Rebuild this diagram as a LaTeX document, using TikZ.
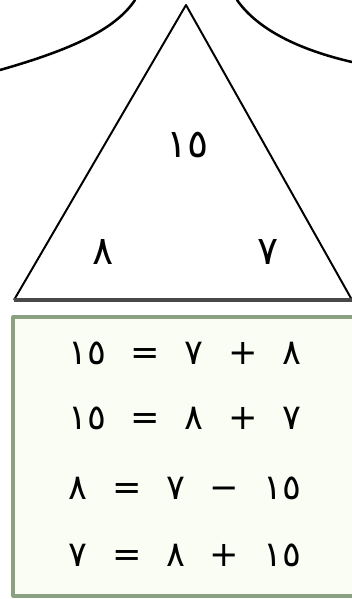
\documentclass[tikz,border=0pt]{standalone}
\usepackage{fontspec}
\newfontfamily\arabicfont[Script=Arabic]{DejaVu Sans}
\TeXXeTstate=1
\definecolor{boxgreen}{HTML}{8AA081}
\definecolor{boxfill}{HTML}{F9FDF4}
\definecolor{basegrey}{HTML}{484848}
\tikzset{num/.style={font=\arabicfont\fontsize{28}{32}\selectfont,inner sep=0pt},
  eqline/.style={font=\arabicfont\fontsize{25}{30}\selectfont,inner sep=0pt},
  rim/.style={line width=1.8pt,line cap=round}}
\newcommand{\eqgap}{\hspace{0.7em}}

\begin{document}
\begin{tikzpicture}[x=0.025cm,y=-0.025cm,line join=round]
 \useasboundingbox (0,0) rectangle (352,599);
 % curves at the top
 \draw[rim] (0,70) .. controls (70,50) and (115,30) .. (135,0);
 \draw[rim] (237,0) .. controls (258,30) and (300,50) .. (352,62);
 % box with the equations
 \draw[draw=boxgreen,fill=boxfill,line width=2.2pt] (353,317) -- (13,317) -- (13,596) -- (353,596);
 % triangle
 \coordinate (top) at (186,5);
 \coordinate (bl) at (14,300);
 \coordinate (br) at (352,300);
 \draw[line width=1.4pt] (bl) -- (top) -- (br);
 \draw[basegrey,line width=2.2pt] (bl) -- (br);
 \node[num] (sum) at (188,145) {\beginR ١٥\endR};
 \node[num] (left) at (103,252) {\beginR ٨\endR};
 \node[num] (right) at (268,252) {\beginR ٧\endR};
 % equations
 \foreach \y/\eq [count=\i] in {353/{٨\eqgap+\eqgap٧\eqgap=\eqgap١٥},
   418/{٧\eqgap+\eqgap٨\eqgap=\eqgap١٥},
   488/{١٥\eqgap−\eqgap٧\eqgap=\eqgap٨},
   555/{١٥\eqgap+\eqgap٨\eqgap=\eqgap٧}}
  {\node[eqline] (eq\i) at (185,\y) {\beginR \eq\endR};}
\end{tikzpicture}
\end{document}
